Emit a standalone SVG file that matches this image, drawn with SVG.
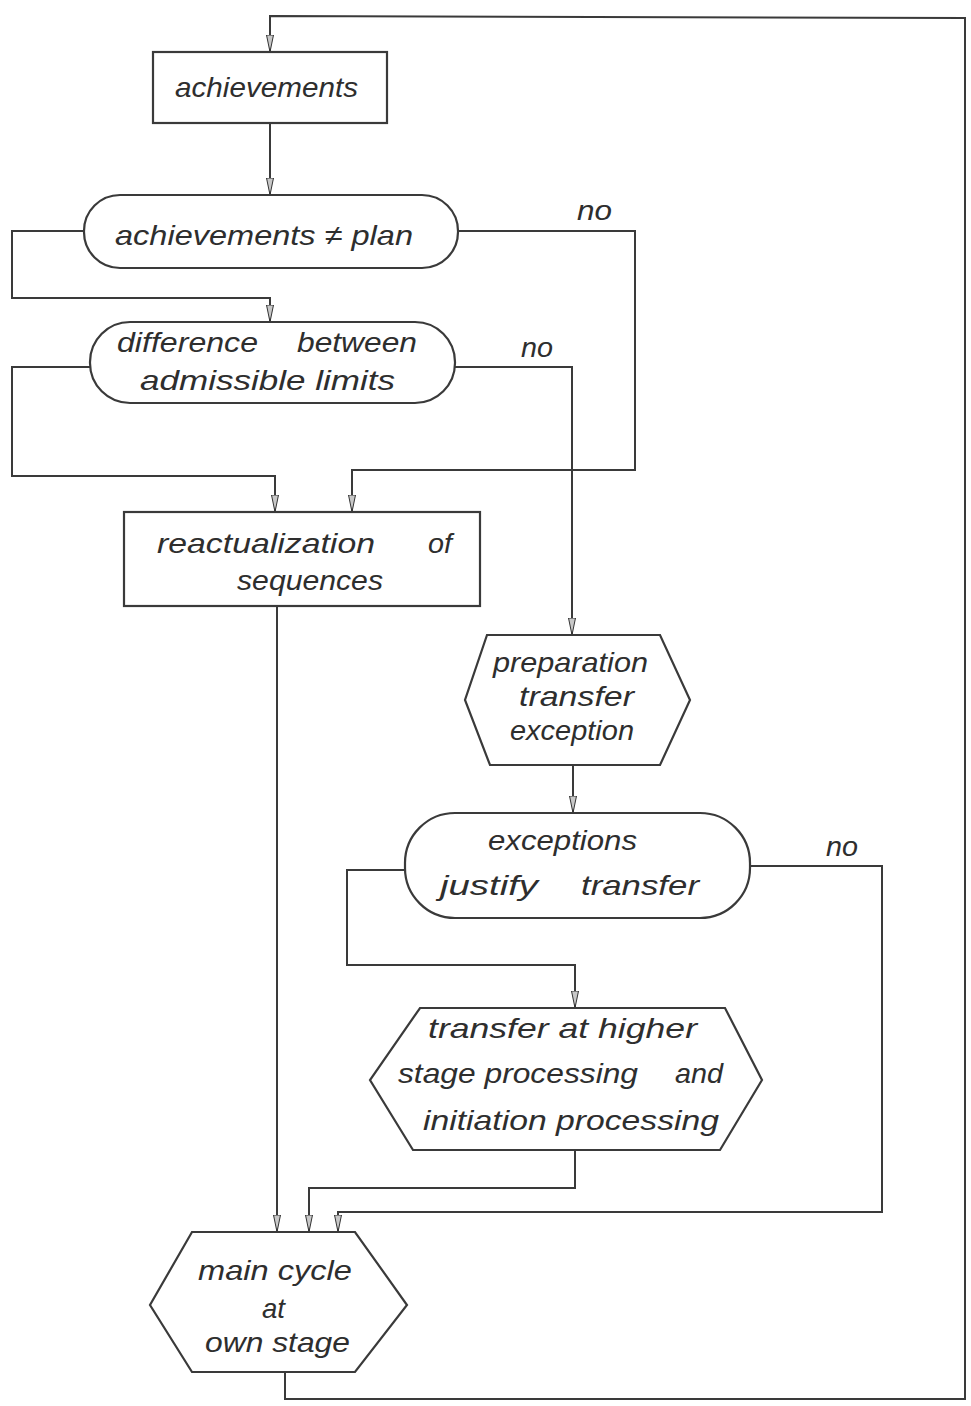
<svg xmlns="http://www.w3.org/2000/svg" width="971" height="1406" viewBox="0 0 971 1406">
<defs>
<marker id="arr" markerUnits="userSpaceOnUse" markerWidth="18" markerHeight="10" viewBox="0 0 18 10" refX="17" refY="5" orient="auto">
<path d="M0,1.5 L17,5 L0,8.5 z" fill="#c8c8c8" stroke="#333" stroke-width="1"/>
</marker>
</defs>
<style>
.bg{fill:#ffffff}
.shape{fill:none;stroke:#3a3a3a;stroke-width:2.2}
.conn{fill:none;stroke:#3a3a3a;stroke-width:2}
.arrow{marker-end:url(#arr)}
.t{font-family:"Liberation Sans","DejaVu Sans",sans-serif;font-style:italic;font-size:28px;fill:#2e2e2e;text-anchor:start}
</style>
<rect class="bg" x="0" y="0" width="971" height="1406"/>
<g id="connectors">
<path class="conn arrow" d="M285,1372 L285,1399 L965,1399 L965,18 L270,16 L270,52"/>
<path class="conn arrow" d="M270,123 L270,195"/>
<path class="conn arrow" d="M84,231 L12,231 L12,298 L270,298 L270,322"/>
<path class="conn arrow" d="M458,231 L635,231 L635,470 L352,470 L352,512"/>
<path class="conn arrow" d="M90,367 L12,367 L12,476 L275,476 L275,512"/>
<path class="conn arrow" d="M455,367 L572,367 L572,635"/>
<path class="conn arrow" d="M277,606 L277,1232"/>
<path class="conn arrow" d="M573,765 L573,813"/>
<path class="conn arrow" d="M405,870 L347,870 L347,965 L575,965 L575,1008"/>
<path class="conn arrow" d="M750,866 L882,866 L882,1212 L338,1212 L338,1232"/>
<path class="conn arrow" d="M575,1150 L575,1188 L309,1188 L309,1232"/>
<text class="t" x="577" y="220" textLength="35" lengthAdjust="spacingAndGlyphs">no</text>
<text class="t" x="521" y="357" textLength="32" lengthAdjust="spacingAndGlyphs">no</text>
<text class="t" x="826" y="856" textLength="32" lengthAdjust="spacingAndGlyphs">no</text>
</g>
<g id="n-achievements">
<rect class="shape" x="153" y="52" width="234" height="71"/>
<text class="t" x="175" y="97" textLength="183" lengthAdjust="spacingAndGlyphs">achievements</text>
</g>
<g id="n-achievements-plan">
<rect class="shape" x="84" y="195" width="374" height="73" rx="36" ry="36"/>
<text class="t" x="115" y="245" textLength="298" lengthAdjust="spacingAndGlyphs">achievements ≠ plan</text>
</g>
<g id="n-difference">
<rect class="shape" x="90" y="322" width="365" height="81" rx="40" ry="40"/>
<text class="t" x="117" y="352" textLength="141" lengthAdjust="spacingAndGlyphs">difference</text>
<text class="t" x="297" y="352" textLength="120" lengthAdjust="spacingAndGlyphs">between</text>
<text class="t" x="140" y="390" textLength="255" lengthAdjust="spacingAndGlyphs">admissible limits</text>
</g>
<g id="n-reactualization">
<rect class="shape" x="124" y="512" width="356" height="94"/>
<text class="t" x="157" y="553" textLength="218" lengthAdjust="spacingAndGlyphs">reactualization</text>
<text class="t" x="428" y="553" textLength="24" lengthAdjust="spacingAndGlyphs">of</text>
<text class="t" x="237" y="590" textLength="146" lengthAdjust="spacingAndGlyphs">sequences</text>
</g>
<g id="n-preparation">
<polygon class="shape" points="487,635 660,635 690,700 660,765 490,765 465,700"/>
<text class="t" x="493" y="672" textLength="155" lengthAdjust="spacingAndGlyphs">preparation</text>
<text class="t" x="519" y="706" textLength="115" lengthAdjust="spacingAndGlyphs">transfer</text>
<text class="t" x="510" y="740" textLength="124" lengthAdjust="spacingAndGlyphs">exception</text>
</g>
<g id="n-exceptions">
<rect class="shape" x="405" y="813" width="345" height="105" rx="50" ry="50"/>
<text class="t" x="488" y="850" textLength="149" lengthAdjust="spacingAndGlyphs">exceptions</text>
<text class="t" x="440" y="895" textLength="98" lengthAdjust="spacingAndGlyphs">justify</text>
<text class="t" x="581" y="895" textLength="118" lengthAdjust="spacingAndGlyphs">transfer</text>
</g>
<g id="n-transfer">
<polygon class="shape" points="420,1008 725,1008 762,1080 720,1150 413,1150 370,1080"/>
<text class="t" x="428" y="1038" textLength="269" lengthAdjust="spacingAndGlyphs">transfer at higher</text>
<text class="t" x="398" y="1083" textLength="240" lengthAdjust="spacingAndGlyphs">stage processing</text>
<text class="t" x="675" y="1083" textLength="48" lengthAdjust="spacingAndGlyphs">and</text>
<text class="t" x="423" y="1130" textLength="296" lengthAdjust="spacingAndGlyphs">initiation processing</text>
</g>
<g id="n-main-cycle">
<polygon class="shape" points="192,1232 355,1232 407,1305 355,1372 192,1372 150,1305"/>
<text class="t" x="198" y="1280" textLength="154" lengthAdjust="spacingAndGlyphs">main cycle</text>
<text class="t" x="262" y="1318" textLength="23" lengthAdjust="spacingAndGlyphs">at</text>
<text class="t" x="205" y="1352" textLength="145" lengthAdjust="spacingAndGlyphs">own stage</text>
</g>
</svg>
